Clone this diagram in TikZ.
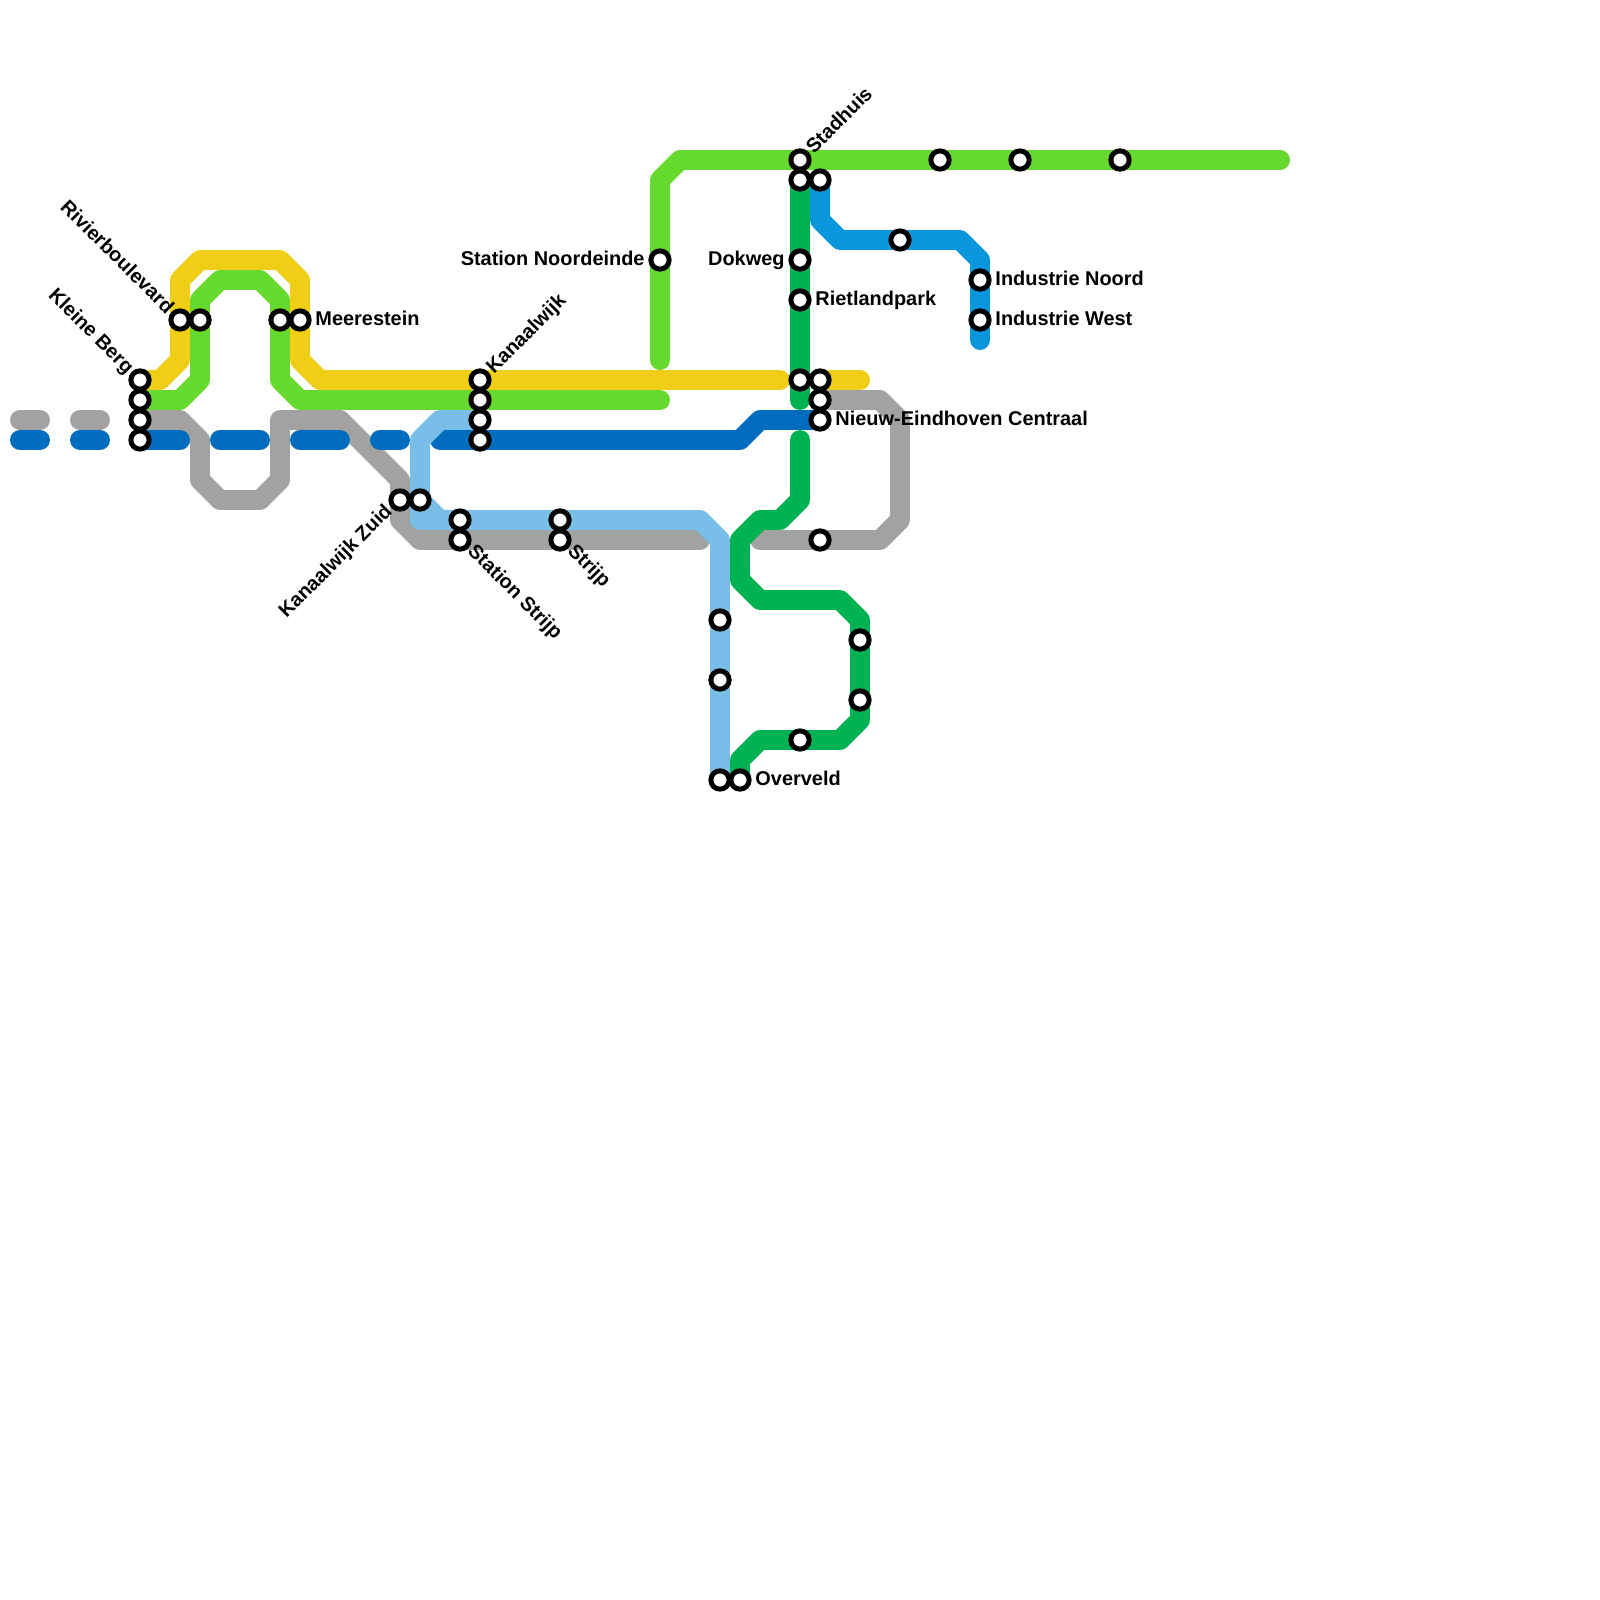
\documentclass[tikz,border=0pt]{standalone}
\usepackage{fontspec}
\setmainfont{Liberation Sans}
\usetikzlibrary{backgrounds}
\definecolor{lineyellow}{HTML}{F0CE15}
\definecolor{linelime}{HTML}{66D92E}
\definecolor{linegray}{HTML}{A2A2A2}
\definecolor{lineblue}{HTML}{006CBF}
\definecolor{linesky}{HTML}{79BDE9}
\definecolor{linegreen}{HTML}{00B251}
\definecolor{linecyan}{HTML}{0A96DA}
\tikzset{
  metro/.style={line width=14.17pt, line cap=round, line join=round},
  stn/.style={circle, draw=black, fill=white, line width=3.54pt, minimum size=13pt, inner sep=0pt, outer sep=0pt},
  lbl/.style={font=\bfseries\fontsize{14.17}{16}\selectfont, text height=11pt, text depth=2.6pt, inner sep=0pt, label distance=4.3pt},
  lblE/.style={label={[lbl, anchor=west]0:#1}},
  lblW/.style={label={[lbl, anchor=east]180:#1}},
  lblNE/.style={label={[lbl, xshift=2.3pt, yshift=-2.3pt, rotate=45, anchor=west]45:#1}},
  lblNW/.style={label={[lbl, xshift=-2.3pt, yshift=-2.3pt, rotate=-45, anchor=east]135:#1}},
  lblSW/.style={label={[lbl, xshift=-3.2pt, yshift=3.2pt, rotate=45, anchor=east]225:#1}},
  lblSE/.style={label={[lbl, xshift=3.2pt, yshift=3.2pt, rotate=-45, anchor=west]315:#1}},
}
\begin{document}
\begin{tikzpicture}[x=0.5cm, y=-0.5cm]
  \useasboundingbox (0,0) rectangle (80,80);
  % Stations
  \node (kleineA) [stn, lblNW=Kleine Berg] at (7,19) {};
  \node (kleineB) [stn] at (7,20) {};
  \node (kleineC) [stn] at (7,21) {};
  \node (kleineD) [stn] at (7,22) {};
  \node (rivierA) [stn, lblNW=Rivierboulevard] at (9,16) {};
  \node (rivierB) [stn] at (10,16) {};
  \node (meerA) [stn] at (14,16) {};
  \node (meerB) [stn, lblE=Meerestein] at (15,16) {};
  \node (zuidA) [stn, lblSW=Kanaalwijk Zuid] at (20,25) {};
  \node (zuidB) [stn] at (21,25) {};
  \node (sstrijpA) [stn] at (23,26) {};
  \node (sstrijpB) [stn, lblSE=Station Strijp] at (23,27) {};
  \node (kanaalA) [stn, lblNE=Kanaalwijk] at (24,19) {};
  \node (kanaalB) [stn] at (24,20) {};
  \node (kanaalC) [stn] at (24,21) {};
  \node (kanaalD) [stn] at (24,22) {};
  \node (strijpA) [stn] at (28,26) {};
  \node (strijpB) [stn, lblSE=Strijp] at (28,27) {};
  \node (noordeinde) [stn, lblW=Station Noordeinde] at (33,13) {};
  \node (skyA) [stn] at (36,31) {};
  \node (skyB) [stn] at (36,34) {};
  \node (overA) [stn] at (36,39) {};
  \node (overB) [stn, lblE=Overveld] at (37,39) {};
  \node (stadA) [stn, lblNE=Stadhuis] at (40,8) {};
  \node (stadB) [stn] at (40,9) {};
  \node (stadC) [stn] at (41,9) {};
  \node (dokweg) [stn, lblW=Dokweg] at (40,13) {};
  \node (rietland) [stn, lblE=Rietlandpark] at (40,15) {};
  \node (nieuwA) [stn] at (40,19) {};
  \node (nieuwB) [stn] at (41,19) {};
  \node (nieuwC) [stn] at (41,20) {};
  \node (nieuwD) [stn, lblE=Nieuw-Eindhoven Centraal] at (41,21) {};
  \node (grayE) [stn] at (41,27) {};
  \node (greenA) [stn] at (43,32) {};
  \node (greenB) [stn] at (43,35) {};
  \node (greenC) [stn] at (40,37) {};
  \node (cyanA) [stn] at (45,12) {};
  \node (indNoord) [stn, lblE=Industrie Noord] at (49,14) {};
  \node (indWest) [stn, lblE=Industrie West] at (49,16) {};
  \node (limeA) [stn] at (47,8) {};
  \node (limeB) [stn] at (51,8) {};
  \node (limeC) [stn] at (56,8) {};

  % Free line ends
  \coordinate (yellowA) at (39,19);
  \coordinate (yellowB) at (43,19);
  \coordinate (limeEnd) at (33,20);
  \coordinate (limeUp) at (33,18);
  \coordinate (limeFar) at (64,8);
  \coordinate (grayEnd) at (35,27);
  \coordinate (grayBack) at (38,27);
  \coordinate (greenEnd) at (40,20);
  \coordinate (greenTop) at (40,22);
  \coordinate (cyanEnd) at (49,17);
  \coordinate (skyDiag) at (22,26);

  % Lines
  \begin{scope}[on background layer]
    \foreach \xa/\xb in {1/2, 4/5} {
      \coordinate (gd\xa) at (\xa,21);
      \coordinate (gd\xb) at (\xb,21);
      \draw [metro, linegray] (gd\xa) -- (gd\xb);
    }
    \draw [metro, linegray] (kleineC.center) -- (9,21) -- (10,22) -- (10,24) -- (11,25) -- (13,25) -- (14,24) -- (14,21) -- (17,21) -- (20,24) -- (20,26) -- (21,27) -- (grayEnd);
    \draw [metro, linegray] (grayBack) -- (44,27) -- (45,26) -- (45,21) -- (44,20) -- (nieuwC.center);

    \foreach \xa/\xb in {1/2, 4/5, 11/13, 15/17, 19/20} {
      \coordinate (bd\xa) at (\xa,22);
      \coordinate (bd\xb) at (\xb,22);
      \draw [metro, lineblue] (bd\xa) -- (bd\xb);
    }
    \draw [metro, lineblue] (kleineD.center) -- (9,22);
    \draw [metro, lineblue] (22,22) -- (37,22) -- (38,21) -- (nieuwD.center);

    \draw [metro, linesky] (kanaalC.center) -- (22,21) -- (21,22) -- (21,26) -- (35,26) -- (36,27) -- (overA.center);
    \draw [metro, linesky] (zuidB.center) -- (skyDiag);

    \draw [metro, lineyellow] (kleineA.center) -- (8,19) -- (9,18) -- (9,14) -- (10,13) -- (14,13) -- (15,14) -- (15,18) -- (16,19) -- (yellowA);
    \draw [metro, lineyellow] (nieuwB.center) -- (yellowB);

    \draw [metro, linelime] (kleineB.center) -- (9,20) -- (10,19) -- (10,15) -- (11,14) -- (13,14) -- (14,15) -- (14,19) -- (15,20) -- (limeEnd);
    \draw [metro, linelime] (limeUp) -- (33,9) -- (34,8) -- (limeFar);

    \draw [metro, linegreen] (stadB.center) -- (greenEnd);
    \draw [metro, linegreen] (greenTop) -- (40,25) -- (39,26) -- (38,26) -- (37,27) -- (37,29) -- (38,30) -- (42,30) -- (43,31) -- (43,36) -- (42,37) -- (38,37) -- (37,38) -- (overB.center);

    \draw [metro, linecyan] (stadC.center) -- (41,11) -- (42,12) -- (48,12) -- (49,13) -- (cyanEnd);
  \end{scope}
\end{tikzpicture}
\end{document}
